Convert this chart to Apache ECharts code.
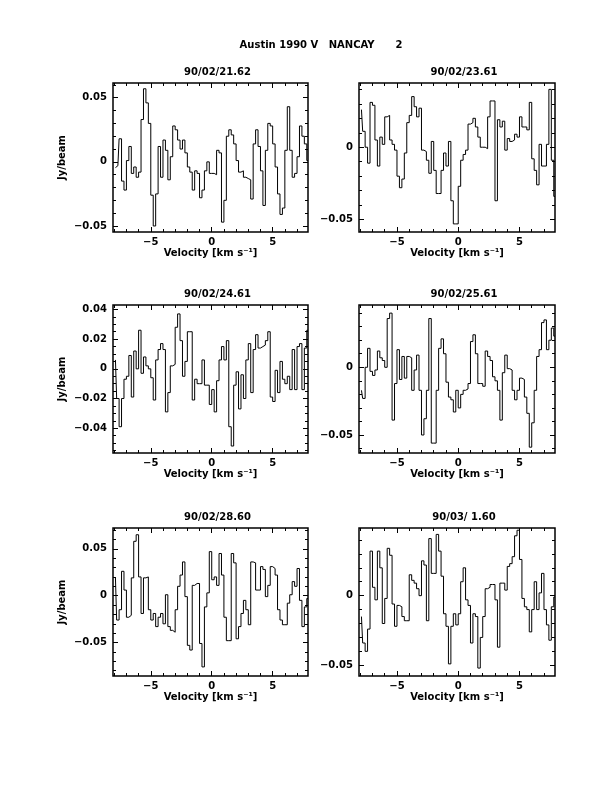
<!DOCTYPE html>
<html><head><meta charset="utf-8">
<script src="https://cdn.jsdelivr.net/npm/echarts@6/dist/echarts.min.js"></script>
<style>html,body{margin:0;padding:0;background:#fff}#c{width:612px;height:792px}</style>
</head><body><div id="c"></div>
<script>
// ---------------- data ----------------
const mainTitle = 'Austin 1990 V   NANCAY      2';
const panelTitles = ['90/02/21.62', '90/02/23.61', '90/02/24.61', '90/02/25.61', '90/02/28.60', '90/03/ 1.60'];
const xLabel = 'Velocity [km s\u207B\u00B9]';
const yLabel = 'Jy/beam';
const V0 = -7.9, DV = 0.2;   // first channel centre and channel width (km/s)
const XMIN = -8.1, XMAX = 7.9;
const xMajorTicks = [-5, 0, 5];
const xMinorTicks = [-8, -7, -6, -4, -3, -2, -1, 1, 2, 3, 4, 6, 7];
const yTicks1 = [-0.05, 0, 0.05];
const yTicks2 = [-0.05, 0];
const yTicks3 = [-0.04, -0.02, 0, 0.02, 0.04];
const yTicks4 = [-0.05, 0];
const yTicks5 = [-0.05, 0, 0.05];
const yTicks6 = [-0.05, 0];

const s1 = [-0.0045,-0.003,0.018,-0.015,-0.022,0.001,0.012,-0.009,-0.004,-0.012,
 -0.008,0.033,0.057,0.046,0.03,-0.026,-0.05,-0.025,0.012,-0.012,
 0.017,0.009,-0.014,0.004,0.028,0.025,0.017,0.01,0.017,0.007,
 -0.004,-0.008,-0.022,-0.007,-0.009,-0.028,-0.022,-0.007,0,-0.009,
 -0.009,-0.01,0.009,0.007,-0.047,-0.03,0.02,0.025,0.021,0.014,
 0.001,-0.008,-0.007,-0.012,-0.013,-0.014,-0.029,0.014,0.025,0.012,
 -0.007,-0.034,0.009,0.03,0.028,0.014,-0.004,-0.025,-0.041,-0.036,
 0.009,0.043,0.009,-0.012,-0.009,0.004,0.028,0.02,0.014,0.001];
const s2 = [0.026,0.011,0,-0.011,0.031,0.029,0.005,-0.013,0.007,0.002,
 0.021,0.022,0.005,0.002,-0.002,-0.02,-0.028,-0.022,-0.004,0.017,
 0.022,0.035,0.028,0.021,0.027,-0.002,-0.003,-0.009,-0.018,0.004,
 -0.016,-0.032,-0.032,-0.016,-0.004,-0.013,0.004,-0.037,-0.053,-0.053,
 -0.027,-0.009,-0.005,-0.002,0.016,0.017,0.020,0.014,0.007,0,
 0,-0.001,0.021,0.032,0.032,-0.037,0.019,0.014,0.018,-0.002,
 0.006,0.004,0.005,0.009,0.007,0.021,0.014,0.014,0.012,0.031,
 -0.008,-0.016,-0.026,0.002,-0.013,-0.013,0.002,0.040,-0.009,-0.034];
const s3 = [0.006,-0.020,-0.039,-0.020,-0.007,-0.005,0.009,-0.019,0.012,0,
 0.026,-0.003,0.008,0.002,0,-0.006,-0.021,0.006,0.013,0.017,
 0.013,-0.029,-0.016,0.002,0.003,0.028,0.037,0.019,-0.005,0.005,
 0.025,0.025,-0.021,-0.007,-0.01,-0.01,0.006,-0.011,-0.011,-0.024,
 -0.014,-0.029,-0.008,0.006,0.015,0.006,0.019,-0.039,-0.052,-0.011,
 -0.002,-0.027,-0.004,-0.02,0.006,0.017,-0.016,0.013,0.023,0.014,
 0.015,0.016,0.019,0.025,-0.019,-0.022,-0.001,-0.016,0.005,-0.007,
 -0.01,-0.005,-0.014,0.013,-0.014,0.015,0.017,-0.014,0.014,0.026];
const s4 = [-0.017,-0.023,0,0.014,-0.003,-0.006,-0.002,0.012,0.007,0.005,
 0,0.036,0.04,-0.039,-0.012,0.013,-0.009,0.008,-0.008,0.008,
 0.007,-0.017,-0.002,0.009,-0.017,-0.05,-0.038,-0.017,0.036,-0.056,
 -0.056,-0.017,0.014,0.021,0.01,-0.011,-0.022,-0.024,-0.033,-0.017,
 -0.030,-0.02,-0.017,-0.016,-0.012,0.019,0.024,0.01,-0.012,-0.012,
 -0.014,0.012,0.008,0.005,-0.007,-0.01,-0.017,-0.039,-0.004,0.009,
 -0.001,-0.002,-0.017,-0.024,-0.017,-0.008,-0.009,-0.022,-0.034,-0.059,
 -0.041,-0.017,0.008,0.013,0.033,0.035,0.013,0.02,0.029,0.023];
const s5 = [0.019,-0.026,-0.015,0.026,0.006,-0.023,-0.021,0.019,0.058,0.065,
 0.02,-0.019,0.019,0.02,-0.015,-0.026,-0.019,-0.033,-0.023,-0.019,
 -0.03,0.001,-0.033,-0.037,-0.039,-0.015,0.01,0.022,0.036,-0.001,
 -0.053,-0.058,0.011,0.013,0.013,-0.051,-0.076,-0.012,0.003,0.047,
 0.017,0.02,0.011,0.045,0.022,-0.023,-0.048,-0.048,0.045,0.035,
 -0.046,-0.033,-0.019,-0.005,-0.015,-0.031,0.036,0.035,0.006,0.006,
 0.031,0.028,-0.001,0.011,0.031,0.029,0.022,-0.015,-0.026,-0.031,
 -0.031,-0.008,0.001,0.015,0.01,0.029,-0.005,-0.033,-0.012,-0.003];
const s6 = [-0.015,-0.034,-0.04,-0.024,0.032,0.006,-0.003,0.032,0.02,-0.02,
 -0.002,0.034,0.029,-0.006,-0.022,-0.007,-0.008,-0.015,-0.018,-0.018,
 0.015,0.011,0.009,0.005,0,0.025,0.022,-0.018,0.041,0.016,
 0.016,0.044,0.032,0.014,-0.013,-0.022,-0.049,-0.022,-0.013,-0.021,
 -0.013,0.01,0.02,-0.003,-0.007,-0.034,-0.013,-0.015,-0.052,-0.03,
 -0.015,0.005,0.006,0.008,0.008,-0.003,-0.037,0.009,0.009,0.004,
 0.021,0.023,0.028,0.043,0.047,0.026,-0.002,-0.008,-0.01,-0.026,
 -0.01,0.01,-0.01,0.002,0.016,-0.01,-0.021,-0.032,-0.008,-0.001];

// ---------------- layout ----------------
const spectra = [s1, s2, s3, s4, s5, s6];
const yTicks = [yTicks1, yTicks2, yTicks3, yTicks4, yTicks5, yTicks6];
const layout = [
  {left:113, top:83,  width:195, height:149, ymin:-0.0547, ymax:0.0615, minor:0.01,  ylab:true},
  {left:359, top:83,  width:196, height:149, ymin:-0.0586, ymax:0.0444, minor:0.01,  ylab:false},
  {left:113, top:305, width:195, height:148, ymin:-0.0567, ymax:0.0430, minor:0.005, ylab:true},
  {left:359, top:305, width:196, height:148, ymin:-0.0633, ymax:0.0460, minor:0.01,  ylab:false},
  {left:113, top:528, width:195, height:148, ymin:-0.0857, ymax:0.0722, minor:0.01,  ylab:true},
  {left:359, top:528, width:196, height:148, ymin:-0.0577, ymax:0.0486, minor:0.01,  ylab:false}
];
const FONT = 'DejaVu Sans';
const FS = 10;
const fmt = v => (Math.abs(v) < 1e-9 ? '0' : (v < 0 ? '\u2212' : '') + String(+Math.abs(v).toFixed(3)));

function minorList(L, major) {
  const out = [];
  const k0 = Math.ceil(L.ymin / L.minor - 1e-6), k1 = Math.floor(L.ymax / L.minor + 1e-6);
  for (let k = k0; k <= k1; k++) {
    const v = +(k * L.minor).toFixed(4);
    if (!major.some(m => Math.abs(m - v) < 1e-9)) out.push(v);
  }
  return out;
}

const grids = [], xAxes = [], yAxes = [], series = [], graphics = [];
const tickStyle = {color:'#000', width:1};
const noLine = {show:false, onZero:false};
layout.forEach((L, g) => {
  grids.push({left:L.left, top:L.top, width:L.width, height:L.height, show:true,
    borderColor:'#000', borderWidth:1.5, backgroundColor:'transparent', outerBoundsMode:'none', containLabel:false});
  const xb = {gridIndex:g, type:'value', min:XMIN, max:XMAX, splitLine:{show:false}, axisLine:noLine};
  xAxes.push(
    Object.assign({}, xb, {position:'bottom',
      axisTick:{inside:true, length:5, customValues:xMajorTicks, lineStyle:tickStyle},
      axisLabel:{customValues:xMajorTicks, formatter:fmt, margin:5, color:'#000', fontSize:FS, fontFamily:FONT, fontWeight:'bold'},
      name:xLabel, nameLocation:'middle', nameGap:16,
      nameTextStyle:{color:'#000', fontSize:FS, fontFamily:FONT, fontWeight:'bold'}}),
    Object.assign({}, xb, {position:'bottom', axisTick:{inside:true, length:3, customValues:xMinorTicks, lineStyle:tickStyle}, axisLabel:{show:false}}),
    Object.assign({}, xb, {position:'top', axisTick:{inside:true, length:5, customValues:xMajorTicks, lineStyle:tickStyle}, axisLabel:{show:false}}),
    Object.assign({}, xb, {position:'top', axisTick:{inside:true, length:3, customValues:xMinorTicks, lineStyle:tickStyle}, axisLabel:{show:false}})
  );
  const maj = yTicks[g], mnr = minorList(L, maj);
  const yb = {gridIndex:g, type:'value', min:L.ymin, max:L.ymax, splitLine:{show:false}, axisLine:noLine};
  yAxes.push(
    Object.assign({}, yb, {position:'left',
      axisTick:{inside:true, length:5, customValues:maj, lineStyle:tickStyle},
      axisLabel:{customValues:maj, formatter:fmt, margin:6, color:'#000', fontSize:FS, fontFamily:FONT, fontWeight:'bold'},
      name:L.ylab ? yLabel : '', nameLocation:'middle', nameGap:46, nameRotate:90,
      nameTextStyle:{color:'#000', fontSize:FS, fontFamily:FONT, fontWeight:'bold'}}),
    Object.assign({}, yb, {position:'left', axisTick:{inside:true, length:3, customValues:mnr, lineStyle:tickStyle}, axisLabel:{show:false}}),
    Object.assign({}, yb, {position:'right', axisTick:{inside:true, length:5, customValues:maj, lineStyle:tickStyle}, axisLabel:{show:false}}),
    Object.assign({}, yb, {position:'right', axisTick:{inside:true, length:3, customValues:mnr, lineStyle:tickStyle}, axisLabel:{show:false}})
  );
  series.push({type:'line', xAxisIndex:g*4, yAxisIndex:g*4, step:'middle', symbol:'none', showSymbol:false,
    data:spectra[g].map((y, i) => [V0 + i * DV, y]), lineStyle:{color:'#000', width:1}, clip:true, silent:true});
  graphics.push({type:'text', x:L.left + L.width / 2 + 7, y:L.top - 11,
    style:{text:panelTitles[g], textAlign:'center', textVerticalAlign:'middle', fill:'#000', font:'bold ' + FS + 'px ' + FONT}});
});
graphics.push({type:'text', x:321, y:45,
  style:{text:mainTitle, textAlign:'center', textVerticalAlign:'middle', fill:'#000', font:'bold ' + FS + 'px ' + FONT}});

const chart = echarts.init(document.getElementById('c'), null, {renderer:'canvas'});
chart.setOption({animation:false, backgroundColor:'#fff', grid:grids, xAxis:xAxes, yAxis:yAxes, series:series, graphic:graphics});
</script></body></html>
